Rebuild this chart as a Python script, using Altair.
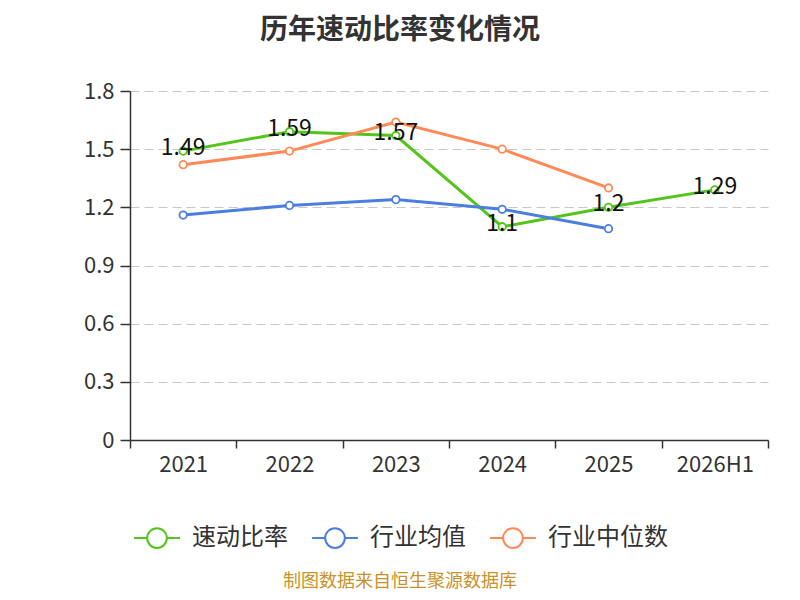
import altair as alt
import pandas as pd

years = ["2021", "2022", "2023", "2024", "2025", "2026H1"]
quick_ratio = [1.49, 1.59, 1.57, 1.10, 1.20, 1.29]
industry_avg = [1.16, 1.21, 1.24, 1.19, 1.09, None]
industry_median = [1.42, 1.49, 1.64, 1.50, 1.30, None]
series_names = ["速动比率", "行业均值", "行业中位数"]
colors = ["#52c41a", "#4a7fe0", "#ff8a58"]

rows = []
for name, vals in zip(series_names, [quick_ratio, industry_avg, industry_median]):
    for y, v in zip(years, vals):
        if v is not None:
            rows.append({"year": y, "value": v, "series": name})
df = pd.DataFrame(rows)

FONT = "Noto Sans CJK SC"
W, H = 638, 349

xenc = alt.X("year:N", sort=years, title=None,
             scale=alt.Scale(type="band", domain=years, paddingInner=0, paddingOuter=0),
             axis=alt.Axis(labelAngle=0, labelFontSize=22, labelColor="#333", labelPadding=6,
                           tickBand="extent", tickSize=8, tickColor="#333", domainColor="#333",
                           domainWidth=1.5, tickWidth=1.5,
                           labelFont=FONT, grid=False))
yenc = alt.Y("value:Q", title=None,
             scale=alt.Scale(domain=[0, 1.8], nice=False),
             axis=alt.Axis(values=[0, 0.3, 0.6, 0.9, 1.2, 1.5, 1.8], labelFontSize=22,
                           labelColor="#333", labelFont=FONT, tickSize=10, tickColor="#333",
                           domainColor="#333", domainWidth=1.5, tickWidth=1.5, labelPadding=6,
                           gridDash=[9, 5], gridColor="#c8c8c8", gridWidth=1.2,
                           labelExpr="datum.value == 0 ? '0' : format(datum.value, '.1f')"))

color = alt.Color("series:N", sort=series_names,
                  scale=alt.Scale(domain=series_names, range=colors),
                  legend=alt.Legend(title=None, orient="none", direction="horizontal",
                                    legendX=3, legendY=423, labelFontSize=24, labelColor="#333",
                                    labelFont=FONT,
                                    symbolType="M-1,0L-0.43,0M0.43,0L1,0M-0.43,0A0.43,0.43,0,1,1,0.43,0A0.43,0.43,0,1,1,-0.43,0Z",
                                    symbolSize=2100, symbolStrokeWidth=2, symbolFillColor="white",
                                    columnPadding=20, labelOffset=11))

base = alt.Chart(df)
lines = base.mark_line(strokeWidth=3).encode(x=xenc, y=yenc, color=color)
points = base.mark_point(shape="circle", filled=True, fill="white", size=55, strokeWidth=1.8, opacity=1).encode(
    x=xenc, y=yenc, stroke=alt.Stroke("series:N", scale=alt.Scale(domain=series_names, range=colors), legend=None))
labels = base.transform_filter(alt.datum.series == "速动比率").mark_text(
    fontSize=23, color="#111", font=FONT, dy=-3).encode(
    x=xenc, y=yenc, text=alt.Text("value:Q", format="~g"))

title = alt.Chart(pd.DataFrame({"t": ["历年速动比率变化情况"]})).mark_text(
    fontSize=28, fontWeight="bold", color="#333", font=FONT).encode(
    x=alt.value(270), y=alt.value(-60), text="t:N")
footer = alt.Chart(pd.DataFrame({"t": ["制图数据来自恒生聚源数据库"]})).mark_text(
    fontSize=18, color="#c8922a", font=FONT).encode(
    x=alt.value(270), y=alt.value(491), text="t:N")

chart = alt.layer(lines, points, labels, title, footer).properties(
    width=W, height=H, autosize=alt.AutoSizeParams(type="none"),
    padding={"left": 122, "top": 83, "right": 14, "bottom": 152}
).configure_view(stroke=None)

chart.save("out.html", embed_options={"renderer": "svg", "actions": False})
